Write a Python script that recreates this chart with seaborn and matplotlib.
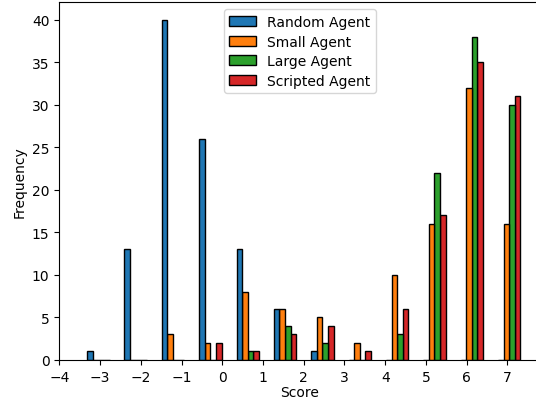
import numpy as np
import pandas as pd
import matplotlib
matplotlib.use("Agg")
import matplotlib.pyplot as plt
import seaborn as sns

# histogram bins (12 equal bins between -3.5 and 7.5)
bin_edges = np.linspace(-3.5, 7.5, 13)
bin_centers = (bin_edges[:-1] + bin_edges[1:]) / 2

agents = ["Random Agent", "Small Agent", "Large Agent", "Scripted Agent"]
random_counts = [1, 13, 40, 26, 13, 6, 1, 0, 0, 0, 0, 0]
small_counts = [0, 0, 3, 2, 8, 6, 5, 2, 10, 16, 32, 16]
large_counts = [0, 0, 0, 0, 1, 4, 2, 0, 3, 22, 38, 30]
scripted_counts = [0, 0, 0, 2, 1, 3, 4, 1, 6, 17, 35, 31]

colors = ["#1f77b4", "#ff7f0e", "#2ca02c", "#d62728"]

# long-form table for seaborn
rows = []
for agent, counts in zip(agents, [random_counts, small_counts, large_counts, scripted_counts]):
    for center, count in zip(bin_centers, counts):
        rows.append({"Score": center, "count": count, "agent": agent})
df = pd.DataFrame(rows)

fig = plt.figure(figsize=(5.36, 4.02), dpi=100)
ax = fig.add_axes([0.1106, 0.102, 0.897, 0.8893])

sns.histplot(
    data=df, x="Score", weights="count", hue="agent", hue_order=agents,
    bins=list(bin_edges), multiple="dodge", shrink=0.6, palette=colors,
    edgecolor="black", linewidth=1, alpha=1, ax=ax,
)

ax.set_xlim(-4, 7.8)
ax.set_ylim(0, 42)
ax.set_xticks(range(-4, 8))
ax.set_xlabel("Score", labelpad=1)
ax.set_ylabel("Frequency")
sns.move_legend(ax, "upper center", title=None, handlelength=1.9, labelspacing=0.4)

fig.savefig("out.png", dpi=100)
